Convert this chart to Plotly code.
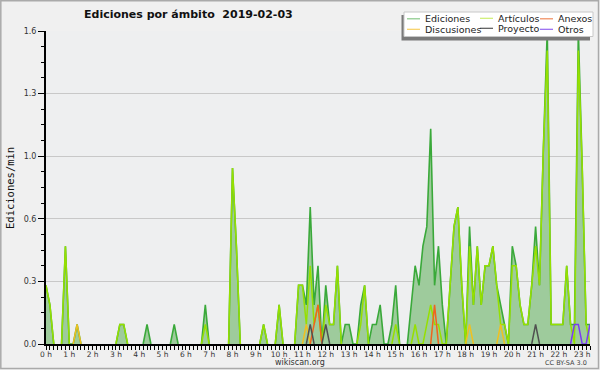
import plotly.graph_objects as go

# ---------------- data (10-minute bins, 00:00 .. 23:20) ----------------
minutes = list(range(0, 1410, 10))
hours = [m / 60 for m in minutes]

ediciones = [
    0.3, 0.2, 0, 0, 0, 0.5, 0, 0, 0.1, 0, 0, 0,
    0, 0, 0, 0, 0, 0, 0, 0.1, 0.1, 0, 0, 0,
    0, 0, 0.1, 0, 0, 0, 0, 0, 0, 0.1, 0, 0,
    0, 0, 0, 0, 0, 0.2, 0, 0, 0, 0, 0, 0,
    0.9, 0.5, 0, 0, 0, 0, 0, 0, 0.1, 0, 0, 0,
    0.2, 0, 0, 0, 0, 0.3, 0.3, 0.2, 0.7, 0.2, 0.4, 0,
    0.3, 0.1, 0.1, 0.4, 0, 0.1, 0.1, 0, 0, 0.2, 0.3, 0,
    0.1, 0.1, 0.2, 0, 0, 0.1, 0.3, 0, 0, 0, 0.2, 0.4,
    0.3, 0.5, 0.6, 1.1, 0.3, 0.5, 0.2, 0, 0.3, 0.6, 0.7, 0.3,
    0, 0.6, 0.2, 0.5, 0.2, 0.4, 0.4, 0.5, 0.3, 0.2, 0.1, 0,
    0.5, 0.4, 0.2, 0.1, 0.1, 0.3, 0.6, 0.3, 1.0, 1.6, 0.1, 0.1,
    0.1, 0.1, 0.4, 0.1, 0.1, 1.6, 0.9, 0.1, 0.1,
]

articulos = [
    0.3, 0.2, 0, 0, 0, 0.5, 0, 0, 0, 0, 0, 0,
    0, 0, 0, 0, 0, 0, 0, 0.1, 0.1, 0, 0, 0,
    0, 0, 0, 0, 0, 0, 0, 0, 0, 0, 0, 0,
    0, 0, 0, 0, 0, 0.1, 0, 0, 0, 0, 0, 0,
    0.9, 0.5, 0, 0, 0, 0, 0, 0, 0.1, 0, 0, 0,
    0.2, 0, 0, 0, 0, 0.3, 0.3, 0.1, 0.4, 0.1, 0.2, 0,
    0.2, 0.1, 0.1, 0.4, 0, 0, 0, 0, 0, 0.1, 0.3, 0,
    0, 0, 0, 0, 0, 0, 0.1, 0, 0, 0, 0, 0.1,
    0, 0, 0.1, 0.2, 0.1, 0.1, 0, 0, 0.3, 0.6, 0.7, 0.3,
    0, 0.5, 0.2, 0.5, 0.2, 0.4, 0.4, 0.5, 0.3, 0.1, 0.1, 0,
    0.4, 0.4, 0.2, 0.1, 0.1, 0.3, 0.5, 0.3, 1.0, 1.5, 0.1, 0.1,
    0.1, 0.1, 0.4, 0.1, 0, 1.5, 0.9, 0.1, 0,
]

anexos = [
    0, 0, 0, 0, 0, 0, 0, 0, 0, 0, 0, 0,
    0, 0, 0, 0, 0, 0, 0, 0, 0, 0, 0, 0,
    0, 0, 0, 0, 0, 0, 0, 0, 0, 0, 0, 0,
    0, 0, 0, 0, 0, 0, 0, 0, 0, 0, 0, 0,
    0, 0, 0, 0, 0, 0, 0, 0, 0, 0, 0, 0,
    0, 0, 0, 0, 0, 0, 0, 0, 0, 0.1, 0.2, 0,
    0, 0, 0, 0, 0, 0, 0, 0, 0, 0, 0, 0,
    0, 0, 0, 0, 0, 0, 0, 0, 0, 0, 0, 0,
    0, 0, 0, 0, 0.2, 0, 0, 0, 0, 0, 0, 0,
    0, 0, 0, 0, 0, 0, 0, 0, 0, 0, 0, 0,
    0, 0, 0, 0, 0, 0, 0, 0, 0, 0, 0, 0,
    0, 0, 0, 0, 0, 0, 0, 0, 0,
]

discusiones = [
    0, 0, 0, 0, 0, 0, 0, 0, 0.1, 0, 0, 0,
    0, 0, 0, 0, 0, 0, 0, 0, 0, 0, 0, 0,
    0, 0, 0, 0, 0, 0, 0, 0, 0, 0, 0, 0,
    0, 0, 0, 0, 0, 0, 0, 0, 0, 0, 0, 0,
    0, 0, 0, 0, 0, 0, 0, 0, 0, 0, 0, 0,
    0, 0, 0, 0, 0, 0, 0, 0.1, 0, 0, 0, 0,
    0, 0, 0, 0, 0, 0, 0, 0, 0, 0, 0, 0,
    0, 0, 0, 0, 0, 0, 0, 0, 0, 0, 0, 0,
    0, 0, 0, 0, 0, 0, 0, 0, 0, 0, 0, 0,
    0, 0.1, 0, 0, 0, 0, 0, 0, 0, 0.1, 0, 0,
    0, 0, 0, 0, 0, 0, 0, 0, 0, 0, 0, 0,
    0, 0, 0, 0, 0, 0, 0, 0, 0,
]

proyecto = [
    0, 0, 0, 0, 0, 0, 0, 0, 0, 0, 0, 0,
    0, 0, 0, 0, 0, 0, 0, 0, 0, 0, 0, 0,
    0, 0, 0, 0, 0, 0, 0, 0, 0, 0, 0, 0,
    0, 0, 0, 0, 0, 0, 0, 0, 0, 0, 0, 0,
    0, 0, 0, 0, 0, 0, 0, 0, 0, 0, 0, 0,
    0, 0, 0, 0, 0, 0, 0, 0, 0.1, 0, 0, 0,
    0.1, 0, 0, 0, 0, 0, 0, 0, 0, 0, 0, 0,
    0, 0, 0, 0, 0, 0, 0, 0, 0, 0, 0, 0,
    0, 0, 0, 0, 0, 0, 0, 0, 0, 0, 0, 0,
    0, 0, 0, 0, 0, 0, 0, 0, 0, 0, 0, 0,
    0, 0, 0, 0, 0, 0, 0.1, 0, 0, 0, 0, 0,
    0, 0, 0, 0, 0, 0, 0, 0, 0,
]

otros = [
    0, 0, 0, 0, 0, 0, 0, 0, 0, 0, 0, 0,
    0, 0, 0, 0, 0, 0, 0, 0, 0, 0, 0, 0,
    0, 0, 0, 0, 0, 0, 0, 0, 0, 0, 0, 0,
    0, 0, 0, 0, 0, 0, 0, 0, 0, 0, 0, 0,
    0, 0, 0, 0, 0, 0, 0, 0, 0, 0, 0, 0,
    0, 0, 0, 0, 0, 0, 0, 0, 0, 0, 0, 0,
    0, 0, 0, 0, 0, 0, 0, 0, 0, 0, 0, 0,
    0, 0, 0, 0, 0, 0, 0, 0, 0, 0, 0, 0,
    0, 0, 0, 0, 0, 0, 0, 0, 0, 0, 0, 0,
    0, 0, 0, 0, 0, 0, 0, 0, 0, 0, 0, 0,
    0, 0, 0, 0, 0, 0, 0, 0, 0, 0, 0, 0,
    0, 0, 0, 0, 0.1, 0.1, 0, 0, 0.1,
]

hour_ticks = list(range(24))
hour_labels = [f"{h} h" for h in hour_ticks]
y_ticks = [0, 0.32, 0.64, 0.96, 1.28, 1.6]
y_labels = ["0.0", "0.3", "0.6", "1.0", "1.3", "1.6"]

# ---------------- geometry helpers (pixels -> paper) ----------------
W, H = 600, 370
L, R, T, B = 46, 590, 31, 344


def px(x):
    return (x - L) / (R - L)


def py(y):
    return (B - y) / (B - T)


def visible(vals):
    """hide points inside zero runs so flat zero lines don't paint the axis"""
    out = []
    n = len(vals)
    for i, v in enumerate(vals):
        prev = vals[i - 1] if i > 0 else 0
        nxt = vals[i + 1] if i < n - 1 else 0
        out.append(None if (v == 0 and prev == 0 and nxt == 0) else v)
    return out


fig = go.Figure()

fig.add_trace(go.Scatter(
    x=hours, y=visible(ediciones), mode="lines", name="Ediciones",
    line=dict(color="#3aa93a", width=1.6), fill="tozeroy",
    fillcolor="#9ecb9c", showlegend=False, hoverinfo="skip"))

series = [
    ("Artículos", articulos, "#96e000"),
    ("Discusiones", discusiones, "#f0c020"),
    ("Anexos", anexos, "#f0641e"),
    ("Proyecto", proyecto, "#505050"),
    ("Otros", otros, "#7a3cf0"),
]
for name, vals, col in series:
    fig.add_trace(go.Scatter(
        x=hours, y=visible(vals), mode="lines", name=name,
        line=dict(color=col, width=1.5), showlegend=False, hoverinfo="skip"))

# ---------------- shapes: frame, legend box ----------------
shapes = [
    # outer frame
    dict(type="rect", xref="paper", yref="paper",
         x0=px(0.8), x1=px(598.5), y0=py(368.5), y1=py(0.8),
         line=dict(color="#aaaaaa", width=1.5), fillcolor="rgba(0,0,0,0)", layer="above"),
    # legend shadow
    dict(type="rect", xref="paper", yref="paper",
         x0=px(401.5), x1=px(590), y0=py(40.5), y1=py(15),
         line=dict(width=0), fillcolor="#7a7a7a", layer="above"),
    # legend box
    dict(type="rect", xref="paper", yref="paper",
         x0=px(404), x1=px(593), y0=py(36.5), y1=py(12),
         line=dict(color="#c8c8c8", width=1), fillcolor="#ffffff", layer="above"),
]

annotations = []
legend_items = [
    ("Ediciones", "#88c888", 407, 423, 18.8),
    ("Artículos", "#cdef70", 480, 496, 18.3),
    ("Anexos", "#f08a5a", 540, 555.5, 18.8),
    ("Discusiones", "#f8d060", 407, 423, 29.3),
    ("Proyecto", "#555555", 480, 496, 28.3),
    ("Otros", "#9466f0", 540, 555.5, 29.3),
]
for text, col, sx, tx, yy in legend_items:
    shapes.append(dict(type="line", xref="paper", yref="paper",
                       x0=px(sx), x1=px(sx + 13), y0=py(yy), y1=py(yy),
                       line=dict(color=col, width=1.2), layer="above"))
    annotations.append(dict(text=text, xref="paper", yref="paper",
                            x=px(tx), y=py(yy), xanchor="left", yanchor="middle",
                            showarrow=False,
                            font=dict(family="DejaVu Sans", size=9.5, color="#222222")))

# title
annotations.append(dict(text="<b>Ediciones por ámbito  2019-02-03</b>",
                        xref="paper", yref="paper", x=px(188.5), y=py(14),
                        xanchor="center", yanchor="middle", showarrow=False,
                        font=dict(family="DejaVu Sans", size=11, color="#111111")))
# y-axis title
annotations.append(dict(text="Ediciones/min", xref="paper", yref="paper",
                        x=px(10), y=py(188), textangle=-90,
                        xanchor="center", yanchor="middle", showarrow=False,
                        font=dict(family="DejaVu Sans Mono", size=10.5, color="#111111")))
# footer texts
annotations.append(dict(text="wikiscan.org", xref="paper", yref="paper",
                        x=px(300), y=py(362.5), xanchor="center", yanchor="middle",
                        showarrow=False,
                        font=dict(family="DejaVu Sans", size=8, color="#333333")))
annotations.append(dict(text="CC BY-SA 3.0", xref="paper", yref="paper",
                        x=px(589), y=py(363), xanchor="right", yanchor="middle",
                        showarrow=False,
                        font=dict(family="DejaVu Sans", size=6.5, color="#444444")))

fig.update_layout(
    width=W, height=H,
    margin=dict(l=L, r=W - R, t=T, b=H - B),
    paper_bgcolor="#f0f0f0",
    plot_bgcolor="#eeeff0",
    shapes=shapes,
    annotations=annotations,
    showlegend=False,
    font=dict(family="DejaVu Sans", size=8, color="#333333"),
)

fig.update_xaxes(
    range=[0, hours[-1]],
    tickmode="array", tickvals=hour_ticks, ticktext=hour_labels,
    ticks="outside", ticklen=4, tickwidth=1, tickcolor="#000000",
    minor=dict(dtick=1 / 6, tick0=0, ticks="outside", ticklen=4,
               tickwidth=1, tickcolor="#000000", showgrid=False),
    showline=True, linecolor="#000000", linewidth=2,
    showgrid=False, zeroline=False,
    ticklabelstandoff=-2,
    tickfont=dict(family="DejaVu Sans", size=7.5, color="#333333"),
    fixedrange=True,
)

fig.update_yaxes(
    range=[0, 1.6],
    tickmode="array", tickvals=y_ticks, ticktext=y_labels,
    ticks="outside", ticklen=6, tickwidth=1, tickcolor="#000000",
    minor=dict(dtick=0.08, tick0=0, ticks="outside", ticklen=3,
               tickwidth=1, tickcolor="#000000", showgrid=False),
    showline=True, linecolor="#000000", linewidth=2,
    showgrid=True, gridcolor="#c8c8c8", gridwidth=1,
    zeroline=False,
    tickfont=dict(family="DejaVu Sans", size=8, color="#333333"),
    fixedrange=True,
)

fig.write_html(
    "out.html",
    config={"displayModeBar": False},
    post_script="document.body.style.margin='0';document.body.style.padding='0';",
)
